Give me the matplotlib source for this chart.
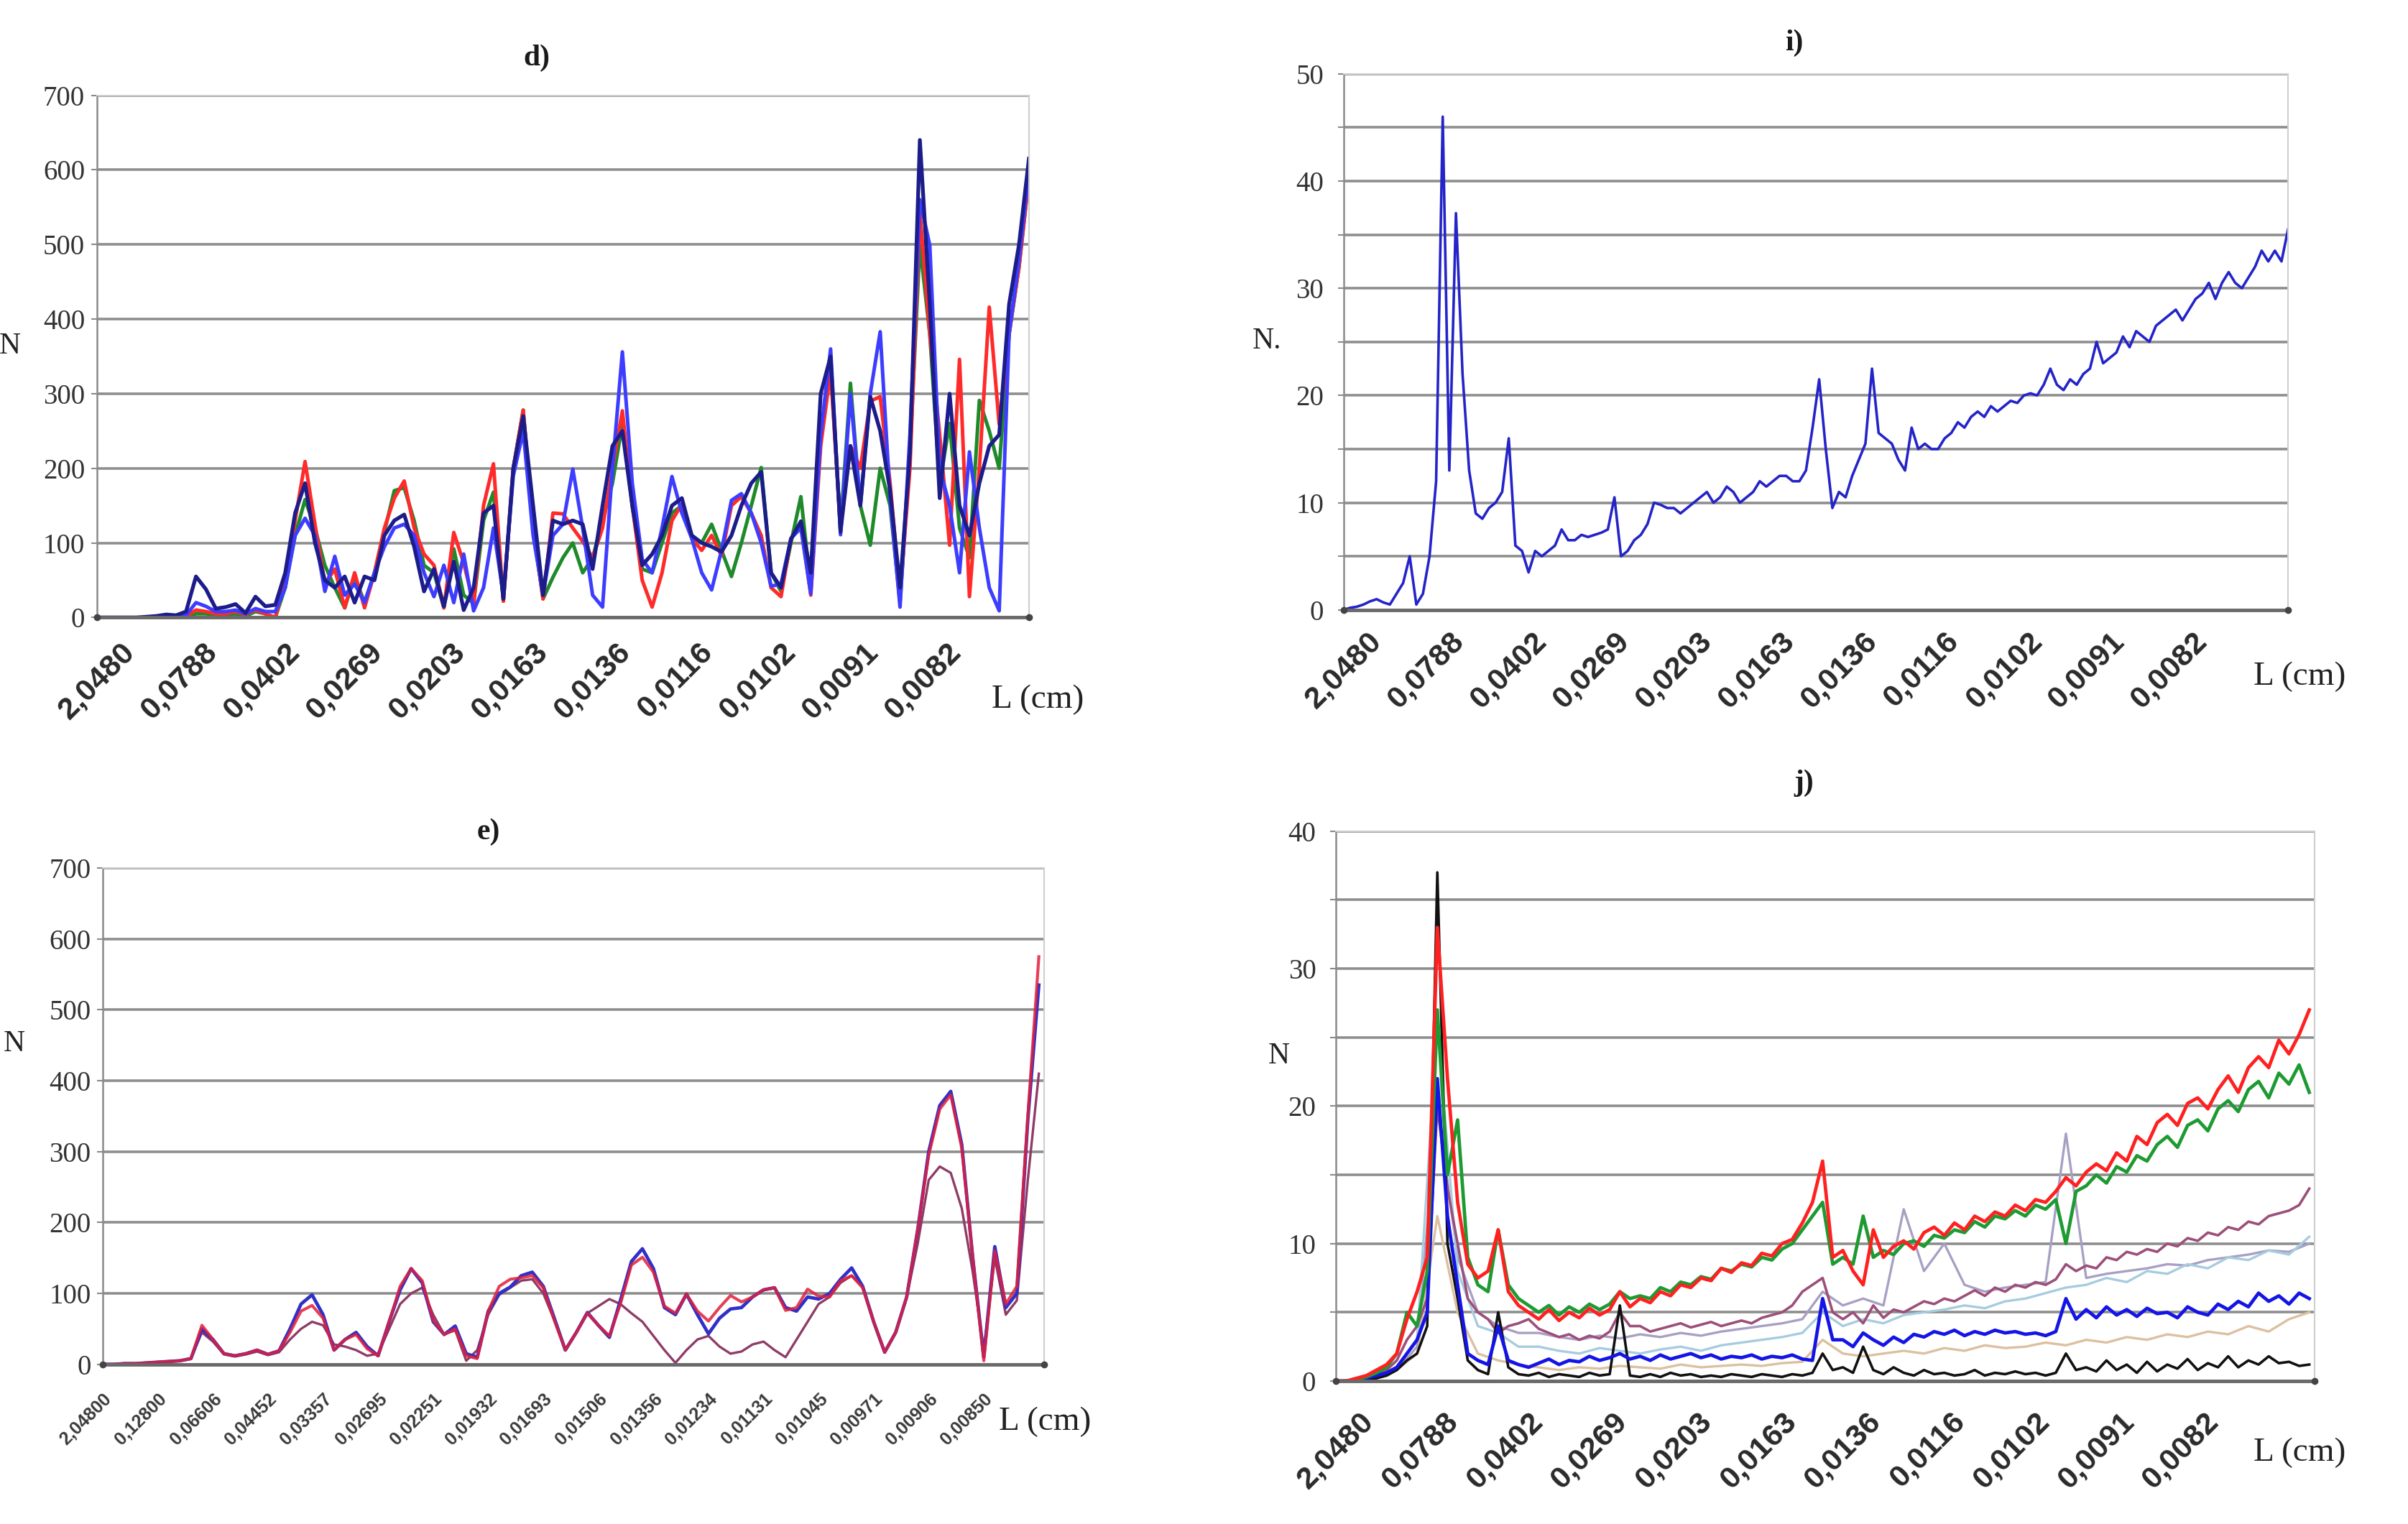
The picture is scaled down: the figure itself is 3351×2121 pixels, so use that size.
import matplotlib
matplotlib.use("Agg")
import matplotlib.pyplot as plt
from matplotlib.ticker import MultipleLocator
import numpy as np

# ---- category labels (L = 2.048 / n) ----
l_ticks = [0, 25, 50, 75, 100, 125, 150, 175, 200, 225, 250]
l_labels = ["2,0480", "0,0788", "0,0402", "0,0269", "0,0203", "0,0163",
            "0,0136", "0,0116", "0,0102", "0,0091", "0,0082"]
e_ticks = [0, 15, 30, 45, 60, 75, 90, 105, 120, 135, 150, 165, 180, 195,
           210, 225, 240]
e_labels = ["2,04800", "0,12800", "0,06606", "0,04452", "0,03357", "0,02695",
            "0,02251", "0,01932", "0,01693", "0,01506", "0,01356", "0,01234",
            "0,01131", "0,01045", "0,00971", "0,00906", "0,00850"]

# ---- panel d) : samples every 3rd category ----
d_step = 3
d_navy = [0, 0, 0, 0, 0, 1, 2, 4, 3, 8,
          55, 38, 12, 14, 18, 6, 28, 15, 17, 60,
          140, 180, 100, 50, 40, 55, 20, 55, 50, 110,
          130, 138, 95, 35, 65, 15, 75, 10, 40, 140,
          150, 25, 200, 270, 150, 30, 130, 125, 130, 125,
          65, 150, 230, 250, 150, 70, 85, 110, 150, 160,
          110, 100, 95, 88, 110, 150, 180, 195, 60, 40,
          105, 129, 60, 300, 350, 115, 230, 150, 296, 250,
          170, 40, 220, 640, 420, 160, 300, 150, 110, 180,
          230, 245, 420, 500, 615]
d_blue = [0, 0, 0, 0, 0, 0, 1, 2, 2, 3,
          20, 15, 8, 8, 10, 5, 12, 8, 8, 40,
          110, 133, 110, 35, 82, 30, 45, 20, 60, 95,
          120, 125, 110, 60, 28, 70, 20, 85, 9, 40,
          120, 30, 190, 250, 110, 30, 110, 125, 199, 120,
          30, 14, 200, 356, 180, 78, 60, 120, 189, 140,
          106, 60, 37, 90, 157, 166, 140, 100, 42, 45,
          106, 120, 32, 245, 360, 111, 300, 150, 300, 383,
          160, 14, 245, 560, 499, 200, 150, 60, 222, 120,
          40, 9, 380, 480, 600]
d_red = [0, 0, 0, 0, 0, 0, 1, 1, 1, 2,
         10, 8, 5, 5, 8, 4, 10, 5, 0, 50,
         130, 209, 125, 45, 65, 13, 60, 13, 60, 120,
         160, 183, 120, 85, 70, 13, 114, 73, 19, 150,
         206, 22, 200, 278, 120, 25, 140, 139, 120, 102,
         80, 120, 200, 277, 150, 50, 14, 60, 130, 152,
         106, 90, 110, 83, 150, 162, 140, 110, 40, 28,
         106, 125, 30, 230, 330, 120, 230, 200, 290, 296,
         180, 30, 200, 545, 380, 245, 97, 346, 28, 200,
         416, 259, 380, 470, 590]
d_green = [0, 0, 0, 0, 0, 0, 0, 1, 1, 1,
           5, 5, 3, 3, 5, 2, 8, 5, 0, 40,
           110, 158, 120, 70, 40, 13, 55, 20, 60, 115,
           170, 174, 130, 70, 60, 13, 92, 30, 19, 130,
           168, 22, 200, 278, 120, 25, 54, 80, 100, 60,
           80, 130, 180, 260, 150, 65, 60, 100, 140, 150,
           110, 100, 125, 90, 55, 100, 150, 201, 60, 35,
           100, 162, 40, 240, 337, 120, 314, 150, 97, 200,
           150, 20, 220, 500, 380, 180, 260, 120, 80, 291,
           250, 200, 380, 470, 590]

# ---- panel i) : samples every 2nd category ----
i_step = 2
i_vals = [0, 0.2, 0.3, 0.5, 0.8, 1, 0.7, 0.5, 1.5, 2.5,
          5, 0.5, 1.5, 5, 12, 46, 13, 37, 22, 13,
          9, 8.5, 9.5, 10, 11, 16, 6, 5.5, 3.5, 5.5,
          5, 5.5, 6, 7.5, 6.5, 6.5, 7, 6.8, 7, 7.2,
          7.5, 10.5, 5, 5.5, 6.5, 7, 8, 10, 9.8, 9.5,
          9.5, 9, 9.5, 10, 10.5, 11, 10, 10.5, 11.5, 11,
          10, 10.5, 11, 12, 11.5, 12, 12.5, 12.5, 12, 12,
          13, 17, 21.5, 15, 9.5, 11, 10.5, 12.5, 14, 15.5,
          22.5, 16.5, 16, 15.5, 14, 13, 17, 15, 15.5, 15,
          15, 16, 16.5, 17.5, 17, 18, 18.5, 18, 19, 18.5,
          19, 19.5, 19.3, 20, 20.2, 20, 21, 22.5, 21, 20.5,
          21.5, 21, 22, 22.5, 25, 23, 23.5, 24, 25.5, 24.5,
          26, 25.5, 25, 26.5, 27, 27.5, 28, 27, 28, 29,
          29.5, 30.5, 29, 30.5, 31.5, 30.5, 30, 31, 32, 33.5,
          32.5, 33.5, 32.5, 35.5]

# ---- panel e) : samples every 3rd category ----
e_step = 3
e_blue = [0, 0, 1, 1, 2, 3, 4, 5, 8, 50,
          35, 15, 12, 15, 20, 14, 19, 50, 85, 98,
          70, 20, 35, 45, 25, 12, 60, 105, 135, 115,
          60, 42, 54, 15, 10, 75, 100, 109, 125, 130,
          110, 65, 20, 45, 73, 55, 38, 90, 145, 163,
          135, 80, 70, 99, 70, 43, 65, 78, 80, 95,
          105, 108, 80, 75, 95, 92, 100, 120, 136, 110,
          60, 17, 45, 95, 190, 300, 365, 385, 310, 150,
          10, 166, 80, 100, 345, 535]
e_red = [0, 0, 1, 1, 2, 3, 4, 5, 8, 55,
         35, 15, 12, 15, 20, 14, 19, 45, 75, 83,
         65, 20, 35, 42, 22, 12, 60, 110, 135, 118,
         62, 42, 50, 12, 8, 75, 110, 120, 122, 125,
         108, 62, 20, 45, 72, 55, 40, 85, 140, 151,
         130, 82, 72, 99, 75, 61, 80, 97, 88, 95,
         105, 108, 76, 80, 106, 96, 95, 118, 125, 108,
         60, 17, 45, 95, 190, 295, 360, 380, 305, 150,
         5, 160, 85, 110, 350, 575]
e_maroon = [0, 0, 1, 1, 2, 3, 4, 5, 8, 45,
            32, 14, 11, 14, 18, 13, 17, 35, 50, 60,
            55, 28, 25, 20, 12, 15, 50, 85, 100, 108,
            70, 42, 48, 5, 20, 70, 98, 108, 118, 120,
            100, 62, 20, 45, 72, 82, 92, 85, 72, 60,
            40, 20, 2, 20, 35, 40, 25, 15, 18, 28,
            32, 20, 10, 35, 60, 85, 95, 115, 125, 110,
            60, 17, 45, 95, 170, 260, 279, 270, 220, 130,
            20, 150, 70, 90, 260, 410]

# ---- panel j) : main series every 3rd category, faint ones every 6th ----
j_step = 3
j_red = [0, 0, 0.2, 0.4, 0.8, 1.2, 2, 4.5, 6.5, 9,
         33, 22, 13, 8.5, 7.5, 8, 11, 6.5, 5.5, 5,
         4.5, 5.2, 4.4, 5, 4.6, 5.3, 4.8, 5.2, 6.5, 5.4,
         6, 5.7, 6.5, 6.2, 7, 6.8, 7.5, 7.3, 8.2, 7.9,
         8.6, 8.4, 9.3, 9.1, 10, 10.3, 11.5, 13, 16, 9,
         9.5, 8, 7, 11, 9, 9.8, 10.2, 9.6, 10.8, 11.2,
         10.6, 11.5, 11, 12, 11.6, 12.3, 12, 12.8, 12.4, 13.2,
         13, 13.8, 14.8, 14.2, 15.2, 15.8, 15.3, 16.6, 16, 17.8,
         17.2, 18.8, 19.4, 18.6, 20.2, 20.6, 19.8, 21.2, 22.2, 21,
         22.8, 23.6, 22.8, 24.8, 23.8, 25.2, 27]
j_green = [0, 0, 0.1, 0.3, 0.6, 1, 2, 5, 4, 8,
           27, 15, 19, 9, 7, 6.5, 11, 7, 6, 5.5,
           5, 5.5, 4.8, 5.4, 5, 5.6, 5.2, 5.6, 6.5, 6,
           6.2, 6, 6.8, 6.5, 7.2, 7, 7.6, 7.4, 8.2, 8,
           8.5, 8.3, 9, 8.8, 9.6, 10, 11, 12, 13, 8.5,
           9, 8.5, 12, 9, 9.5, 9.2, 10, 10.2, 9.8, 10.6,
           10.4, 11, 10.8, 11.6, 11.2, 12, 11.8, 12.4, 12, 12.8,
           12.5, 13.2, 10, 13.8, 14.2, 15, 14.4, 15.6, 15.2, 16.4,
           16, 17.2, 17.8, 17, 18.6, 19, 18.2, 19.8, 20.4, 19.6,
           21.2, 21.8, 20.6, 22.4, 21.6, 23, 21]
j_purple = [0, 0, 0.1, 0.3, 0.5, 0.8, 1.5, 3, 4, 6,
            20, 14, 10, 6, 5, 4.5, 3.5, 4, 4.2, 4.5,
            3.8, 3.5, 3.2, 3.4, 3, 3.3, 3.1, 3.6, 5, 4,
            4, 3.6, 3.8, 4, 4.2, 3.9, 4.1, 4.3, 4, 4.2,
            4.4, 4.2, 4.6, 4.8, 5, 5.5, 6.5, 7, 7.5, 5,
            4.5, 5, 4.2, 5.5, 4.6, 5.2, 5, 5.4, 5.8, 5.6,
            6, 5.8, 6.2, 6.6, 6.2, 6.8, 6.5, 7, 6.8, 7.2,
            7, 7.4, 8.5, 8, 8.4, 8.2, 9, 8.8, 9.4, 9.2,
            9.6, 9.4, 10, 9.8, 10.4, 10.2, 10.8, 10.6, 11.2, 11,
            11.6, 11.4, 12, 12.2, 12.4, 12.8, 14]
j_blue = [0, 0, 0, 0.2, 0.4, 0.6, 1, 2, 3, 5,
          22, 12, 7, 2, 1.5, 1.2, 4, 1.5, 1.2, 1,
          1.3, 1.6, 1.2, 1.5, 1.4, 1.8, 1.5, 1.7, 2, 1.6,
          1.8, 1.5, 1.9, 1.6, 1.8, 2, 1.7, 1.9, 1.6, 1.8,
          1.7, 1.9, 1.6, 1.8, 1.7, 1.9, 1.6, 1.5, 6, 3,
          3, 2.5, 3.5, 3, 2.6, 3.2, 2.8, 3.4, 3.2, 3.6,
          3.4, 3.7, 3.3, 3.6, 3.4, 3.7, 3.5, 3.6, 3.4, 3.5,
          3.3, 3.6, 6, 4.5, 5.2, 4.6, 5.4, 4.8, 5.2, 4.7,
          5.3, 4.9, 5, 4.6, 5.4, 5, 4.8, 5.6, 5.2, 5.8,
          5.4, 6.4, 5.8, 6.2, 5.6, 6.4, 6]
j_black = [0, 0, 0, 0.1, 0.2, 0.4, 0.8, 1.5, 2, 4,
           37, 10, 6, 1.5, 0.8, 0.5, 5, 1, 0.5, 0.4,
           0.6, 0.3, 0.5, 0.4, 0.3, 0.6, 0.4, 0.5, 5.5, 0.4,
           0.3, 0.5, 0.3, 0.6, 0.4, 0.5, 0.3, 0.4, 0.3, 0.5,
           0.4, 0.3, 0.5, 0.4, 0.3, 0.5, 0.4, 0.6, 2, 0.8,
           1, 0.6, 2.5, 0.8, 0.5, 1, 0.6, 0.4, 0.8, 0.5,
           0.6, 0.4, 0.5, 0.8, 0.4, 0.6, 0.5, 0.7, 0.5, 0.6,
           0.4, 0.6, 2, 0.8, 1, 0.7, 1.5, 0.8, 1.2, 0.6,
           1.4, 0.7, 1.2, 0.9, 1.6, 0.8, 1.3, 1, 1.8, 1,
           1.5, 1.2, 1.8, 1.3, 1.4, 1.1, 1.2]
j_faint_step = 6
j_lightblue = [0, 0.1, 0.4, 1, 3, 26, 8, 4, 3.5, 2.5,
               2.5, 2.2, 2, 2.4, 2.2, 2, 2.3, 2.5, 2.2, 2.6,
               2.8, 3, 3.2, 3.5, 5, 4, 4.5, 4.2, 4.8, 5,
               5.2, 5.5, 5.3, 5.8, 6, 6.4, 6.8, 7, 7.5, 7.2,
               8, 7.8, 8.5, 8.2, 9, 8.8, 9.5, 9.2, 10.5]
j_tan = [0, 0.1, 0.3, 0.8, 2, 12, 5, 2, 1.5, 1.2,
         1, 0.8, 1, 0.9, 1.1, 1, 0.9, 1.2, 1, 1.1,
         1.2, 1.1, 1.3, 1.4, 3, 2, 1.8, 2, 2.2, 2,
         2.4, 2.2, 2.6, 2.4, 2.5, 2.8, 2.6, 3, 2.8, 3.2,
         3, 3.4, 3.2, 3.6, 3.4, 4, 3.6, 4.5, 5]
j_lavender = [0, 0.1, 0.3, 0.8, 2.5, 20, 9, 5, 4, 3.5,
              3.5, 3.2, 3, 3.3, 3.1, 3.4, 3.2, 3.5, 3.3, 3.6,
              3.8, 4, 4.2, 4.5, 6.5, 5.5, 6, 5.5, 12.5, 8,
              10, 7, 6.5, 6.8, 7, 7.2, 18, 7.5, 7.8, 8,
              8.2, 8.5, 8.4, 8.8, 9, 9.2, 9.5, 9.4, 10]

SERIF = "Liberation Serif"
SANS = "Liberation Sans"


def positions(vals, step):
    # category index of each sample
    return np.arange(len(vals)) * step


def style_axes(ax, ymax, major, minor, xmax, ticks, labels, xsize,
               xpad, ypad, centred=True):
    ax.set_xlim(0, xmax)
    ax.set_ylim(0, ymax)
    ax.yaxis.set_major_locator(MultipleLocator(major))
    ax.yaxis.set_minor_locator(MultipleLocator(minor))
    ax.grid(axis="y", which="both", color="#8e8e8e", lw=2.6)
    ax.set_axisbelow(True)
    for side in ("top", "right"):
        ax.spines[side].set_color("#cfcfcf")
        ax.spines[side].set_linewidth(1.5)
    ax.spines["left"].set_color("#8a8a8a")
    ax.spines["left"].set_linewidth(1.8)
    ax.spines["bottom"].set_color("#6a6a6a")
    ax.spines["bottom"].set_linewidth(3.5)
    ax.plot([0, 1], [0, 0], transform=ax.transAxes, ls="none", marker="o",
            ms=6, color="#444444", clip_on=False, zorder=5)
    ax.tick_params(axis="y", which="both", length=6, width=1.5,
                   color="#8a8a8a", pad=ypad, labelsize=28,
                   labelcolor="#333333")
    ax.tick_params(axis="y", which="minor", labelleft=False)
    for t in ax.get_yticklabels():
        t.set_fontfamily(SERIF)
    ax.set_xticks(ticks)
    ax.tick_params(axis="x", length=0, pad=xpad)
    if centred:
        ax.set_xticklabels(labels, rotation=45, ha="center", va="top",
                           fontsize=xsize, fontweight="bold",
                           fontfamily=SANS, color="#2a2a2a")
    else:
        ax.set_xticklabels(labels, rotation=45, ha="right", va="top",
                           rotation_mode="anchor", fontsize=xsize,
                           fontweight="bold", fontfamily=SANS,
                           color="#3a3a3a")


fig = plt.figure(figsize=(33.51, 21.21), dpi=100, facecolor="white")

# d)
ax_d = fig.add_axes([0.0402, 0.5948, 0.3871, 0.3427])
ax_d.plot(positions(d_green, d_step), d_green, color="#1f8a2a", lw=3.6)
ax_d.plot(positions(d_red, d_step), d_red, color="#ff2a2a", lw=3.6)
ax_d.plot(positions(d_blue, d_step), d_blue, color="#3d3dff", lw=3.6)
ax_d.plot(positions(d_navy, d_step), d_navy, color="#1c1c8a", lw=3.8)
style_axes(ax_d, 700, 100, 100, 282, l_ticks, l_labels, 31, 20, 6)

# i)
ax_i = fig.add_axes([0.558, 0.5998, 0.3922, 0.3518])
ax_i.plot(positions(i_vals, i_step), i_vals, color="#2424c8", lw=2.6)
style_axes(ax_i, 50, 10, 5, 286, l_ticks, l_labels, 31, 17, 14)

# e)
ax_e = fig.add_axes([0.0427, 0.1048, 0.3910, 0.3256])
ax_e.plot(positions(e_maroon, e_step), e_maroon, color="#8e3c66", lw=2.4)
ax_e.plot(positions(e_blue, e_step), e_blue, color="#3030c8", lw=3.4)
ax_e.plot(positions(e_red, e_step), e_red, color="#e0203c", lw=3.0,
          alpha=0.85)
style_axes(ax_e, 700, 100, 100, 256.5, e_ticks, e_labels, 18, 26, 6,
           centred=False)

# j)
ax_j = fig.add_axes([0.5548, 0.0938, 0.4063, 0.3608])
ax_j.plot(positions(j_tan, j_faint_step), j_tan, color="#dcc0a0", lw=2.4)
ax_j.plot(positions(j_lavender, j_faint_step), j_lavender, color="#a8a0c4",
          lw=2.4)
ax_j.plot(positions(j_lightblue, j_faint_step), j_lightblue,
          color="#a6cce0", lw=2.4)
ax_j.plot(positions(j_purple, j_step), j_purple, color="#9c4f7a", lw=2.6)
ax_j.plot(positions(j_black, j_step), j_black, color="#111111", lw=2.6)
ax_j.plot(positions(j_blue, j_step), j_blue, color="#1414e6", lw=3.4)
ax_j.plot(positions(j_green, j_step), j_green, color="#1e9a32", lw=3.4)
ax_j.plot(positions(j_red, j_step), j_red, color="#ff2020", lw=3.4)
style_axes(ax_j, 40, 10, 5, 289.5, l_ticks, l_labels, 31, 26, 14)

# titles and axis captions
title_kw = dict(fontfamily=SERIF, fontweight="bold", fontsize=30,
                ha="center", va="center", color="#1a1a1a")
fig.text(0.223, 0.962, "d)", **title_kw)
fig.text(0.745, 0.972, "i)", **title_kw)
fig.text(0.203, 0.454, "e)", **title_kw)
fig.text(0.749, 0.486, "j)", **title_kw)

n_kw = dict(fontfamily=SERIF, fontsize=30, ha="center", va="center",
            color="#222222")
fig.text(0.004, 0.773, "N", **n_kw)
fig.text(0.526, 0.776, "N.", **n_kw)
fig.text(0.006, 0.315, "N", **n_kw)
fig.text(0.531, 0.307, "N", **n_kw)

l_kw = dict(fontfamily=SERIF, fontsize=34, ha="center", va="center",
            color="#222222")
fig.text(0.431, 0.541, "L (cm)", **l_kw)
fig.text(0.955, 0.556, "L (cm)", **l_kw)
fig.text(0.434, 0.067, "L (cm)", **l_kw)
fig.text(0.955, 0.047, "L (cm)", **l_kw)

fig.savefig("out.png", dpi=100, facecolor="white")
